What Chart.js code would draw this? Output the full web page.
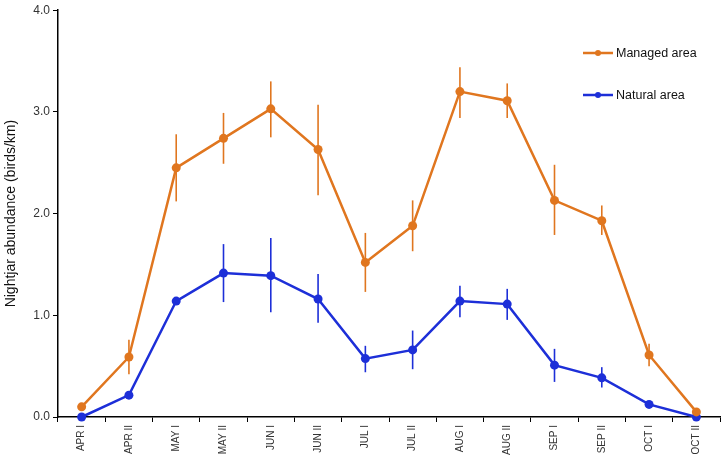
<!DOCTYPE html>
<html>
<head>
<meta charset="utf-8">
<script src="https://cdn.jsdelivr.net/npm/chart.js@4.4.1/dist/chart.umd.min.js"></script>
<style>
  html, body { margin: 0; padding: 0; background: #fff; }
  #wrap { width: 725px; height: 460px; }
</style>
</head>
<body>
<div id="wrap"><canvas id="chart" width="725" height="460"></canvas></div>
<script>
// categories (half-month periods)
const periods = ['APR I', 'APR II', 'MAY I', 'MAY II', 'JUN I', 'JUN II', 'JUL I', 'JUL II',
                 'AUG I', 'AUG II', 'SEP I', 'SEP II', 'OCT I', 'OCT II'];

// managed area: mean and error bar ends
const managed     = [0.10, 0.59, 2.45, 2.74, 3.03, 2.63, 1.52, 1.88, 3.20, 3.11, 2.13, 1.93, 0.61, 0.05];
const managedHigh = [null, 0.76, 2.78, 2.99, 3.30, 3.07, 1.81, 2.13, 3.44, 3.28, 2.48, 2.08, 0.72, null];
const managedLow  = [null, 0.42, 2.12, 2.49, 2.75, 2.18, 1.23, 1.63, 2.94, 2.94, 1.79, 1.79, 0.50, null];

// natural area: mean and error bar ends
const natural     = [0.00, 0.215, 1.14, 1.415, 1.39, 1.16, 0.574, 0.66, 1.14, 1.11, 0.51, 0.385, 0.124, 0.00];
const naturalHigh = [null, null, 1.18, 1.70, 1.76, 1.405, 0.70, 0.85, 1.29, 1.26, 0.67, 0.49, null, null];
const naturalLow  = [null, null, 1.12, 1.13, 1.03, 0.926, 0.44, 0.47, 0.98, 0.955, 0.345, 0.29, null, null];

const yTicks = [0, 1, 2, 3, 4];

const orange = '#e0761f';
const blue = '#1d2fd8';
const font = 'Liberation Sans, Arial, sans-serif';

//error bars drawn through the scales
const errorBars = {
    id: 'errorBars',
    afterDatasetsDraw(chart) {
        const ctx = chart.ctx;
        const y = chart.scales.y;
        chart.data.datasets.forEach(function(ds, di) {
            const meta = chart.getDatasetMeta(di);
            ctx.save();
            ctx.strokeStyle = ds.borderColor;
            ctx.lineWidth = 1.6;
            for (let i = 0; i < ds.data.length; i++) {
                if (ds.high[i] == null) continue;
                const x = meta.data[i].x;
                ctx.beginPath();
                ctx.moveTo(x, y.getPixelForValue(ds.high[i]));
                ctx.lineTo(x, y.getPixelForValue(ds.low[i]));
                ctx.stroke();
            }
            ctx.restore();
        });
    }
};

//legend inside the plot, top right
const insideLegend = {
    id: 'insideLegend',
    afterDraw(chart) {
        const ctx = chart.ctx;
        ctx.save();
        chart.data.datasets.forEach(function(ds, i) {
            const ly = 53 + i * 42;
            ctx.strokeStyle = ds.borderColor;
            ctx.lineWidth = 2.5;
            ctx.beginPath();
            ctx.moveTo(583, ly);
            ctx.lineTo(613, ly);
            ctx.stroke();
            ctx.fillStyle = ds.borderColor;
            ctx.beginPath();
            ctx.arc(598, ly, 3, 0, Math.PI * 2);
            ctx.fill();
            ctx.fillStyle = '#111';
            ctx.font = '12.5px ' + font;
            ctx.textBaseline = 'middle';
            ctx.textAlign = 'left';
            ctx.fillText(ds.label, 616, ly + 0.5);
        });
        ctx.restore();
    }
};

const ctx = document.getElementById('chart').getContext('2d');

let myChart = new Chart(ctx, {
    type: 'line',
    data: {
        labels: periods,
        datasets: [
            {
                label: 'Managed area',
                data: managed,
                high: managedHigh,
                low: managedLow,
                borderColor: orange,
                backgroundColor: orange,
                borderWidth: 2.5,
                pointRadius: 4.5,
                pointBorderWidth: 0,
                tension: 0,
                clip: 10
            },
            {
                label: 'Natural area',
                data: natural,
                high: naturalHigh,
                low: naturalLow,
                borderColor: blue,
                backgroundColor: blue,
                borderWidth: 2.5,
                pointRadius: 4.5,
                pointBorderWidth: 0,
                tension: 0,
                clip: 10
            }
        ]
    },
    options: {
        responsive: false,
        animation: false,
        layout: { padding: { top: 8, right: 5, left: 3, bottom: 0 } },
        plugins: {
            legend: { display: false },
            tooltip: { enabled: false }
        },
        scales: {
            x: {
                offset: true,
                grid: {
                    offset: true,
                    drawOnChartArea: false,
                    drawTicks: true,
                    tickLength: 5,
                    color: '#000'
                },
                border: { display: true, color: '#000', width: 1.5 },
                ticks: {
                    minRotation: 90,
                    maxRotation: 90,
                    autoSkip: false,
                    padding: 3,
                    color: '#333',
                    font: { family: font, size: 10 }
                },
                afterFit(scale) { scale.height = 43; }
            },
            y: {
                min: 0,
                max: 4,
                afterBuildTicks(scale) {
                    scale.ticks = yTicks.map(function(v) { return { value: v }; });
                },
                grid: {
                    drawOnChartArea: false,
                    drawTicks: true,
                    tickLength: 5,
                    color: '#000'
                },
                border: { display: true, color: '#000', width: 1.5 },
                ticks: {
                    padding: 3,
                    color: '#333',
                    font: { family: font, size: 12 },
                    callback: function(v) { return Number(v).toFixed(1); }
                },
                title: {
                    display: true,
                    text: 'Nightjar abundance (birds/km)',
                    color: '#111',
                    padding: 0,
                    font: { family: font, size: 14 }
                },
                afterFit(scale) { scale.width = 55; }
            }
        }
    },
    plugins: [errorBars, insideLegend]
});
</script>
</body>
</html>
